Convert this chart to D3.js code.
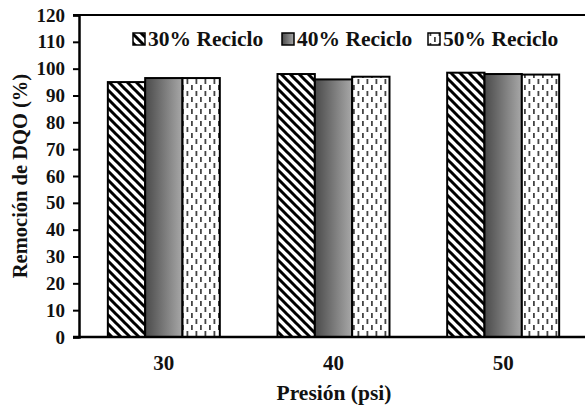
<!DOCTYPE html>
<html><head><meta charset="utf-8">
<script src="https://cdn.jsdelivr.net/npm/d3@7"></script>
<style>body{margin:0;background:#fff}svg{display:block}text{font-family:"Liberation Serif","Times New Roman",serif;font-weight:bold;fill:#111}</style>
</head><body><svg id="c" width="585" height="408"></svg>
<script>
const categories = ["30","40","50"];
const seriesNames = ["30% Reciclo","40% Reciclo","50% Reciclo"];
const reciclo30 = [95.0, 98.0, 98.5];
const reciclo40 = [96.5, 96.0, 98.0];
const reciclo50 = [96.5, 97.0, 97.8];
const yTicks = [0,10,20,30,40,50,60,70,80,90,100,110,120];
const seriesValues = [reciclo30, reciclo40, reciclo50];

const svg = d3.select("#c");
const m = {l:79, r:588, t:15, b:337};
const defs = svg.append("defs");
const ph = defs.append("pattern").attr("id","hatch").attr("patternUnits","userSpaceOnUse")
  .attr("width",9).attr("height",9);
ph.append("rect").attr("width",9).attr("height",9).attr("fill","#fff");
ph.append("path").attr("d","M-3,-3 L12,12 M-3,6 L3,12 M6,-3 L12,3").attr("stroke","#000").attr("stroke-width",3);
const g = defs.append("linearGradient").attr("id","grad").attr("x1","0").attr("x2","1").attr("y1","0").attr("y2","0");
g.append("stop").attr("offset","0").attr("stop-color","#4a4a4a");
g.append("stop").attr("offset","1").attr("stop-color","#a8a8a8");
const pd = defs.append("pattern").attr("id","dots").attr("patternUnits","userSpaceOnUse")
  .attr("width",9).attr("height",12);
pd.append("rect").attr("width",9).attr("height",12).attr("fill","#fff");
pd.append("rect").attr("x",2).attr("y",1).attr("width",1.8).attr("height",5).attr("fill","#444");
pd.append("rect").attr("x",6.5).attr("y",7).attr("width",1.8).attr("height",5).attr("fill","#444");
const fills = ["url(#hatch)","url(#grad)","url(#dots)"];

const x0 = d3.scaleBand().domain(categories).range([m.l, m.r]).paddingInner(0.34).paddingOuter(0.17);
const x1 = d3.scaleBand().domain(d3.range(3)).range([0, x0.bandwidth()]);
const y = d3.scaleLinear().domain([0,120]).range([m.b, m.t]);

svg.append("line").attr("x1",m.l-6).attr("x2",585).attr("y1",m.t).attr("y2",m.t).attr("stroke","#000").attr("stroke-width",2);

categories.forEach((c,i)=>{
  seriesValues.forEach((vals,s)=>{
    svg.append("rect")
      .attr("x", x0(c)+x1(s)).attr("y", y(vals[i]))
      .attr("width", x1.bandwidth()).attr("height", y(0)-y(vals[i]))
      .attr("fill", fills[s]).attr("stroke","#000").attr("stroke-width",2);
  });
});

const ya = svg.append("g").attr("transform",`translate(${m.l},0)`)
  .call(d3.axisLeft(y).tickValues(yTicks).tickSize(6).tickPadding(8));
ya.select(".domain").attr("stroke","#000").attr("stroke-width",2.5);
ya.selectAll(".tick line").attr("stroke","#000").attr("stroke-width",2);
ya.selectAll("text").attr("font-size",19).style("fill","#111").attr("font-family","Liberation Serif").attr("font-weight","bold");

const xa = svg.append("g").attr("transform",`translate(0,${m.b})`)
  .call(d3.axisBottom(x0).tickSize(0).tickPadding(18));
xa.select(".domain").remove();
svg.append("line").attr("x1",m.l-6).attr("x2",585).attr("y1",m.b).attr("y2",m.b).attr("stroke","#000").attr("stroke-width",2.5);
xa.selectAll("text").attr("font-size",21).style("fill","#111").attr("font-family","Liberation Serif").attr("font-weight","bold");

svg.append("text").attr("x",334).attr("y",400).attr("text-anchor","middle").attr("font-size",21.5).text("Presión (psi)");
svg.append("text").attr("transform","translate(27,176) rotate(-90)").attr("text-anchor","middle").attr("font-size",20.5).text("Remoción de DQO (%)");

const legX = [133, 282, 428];
seriesNames.forEach((n,s)=>{
  svg.append("rect").attr("x",legX[s]).attr("y",33).attr("width",12).attr("height",12)
    .attr("fill",fills[s]).attr("stroke","#000").attr("stroke-width",1.5);
  svg.append("text").attr("x",legX[s]+15).attr("y",46).attr("font-size",21.5).text(n);
});
</script></body></html>
